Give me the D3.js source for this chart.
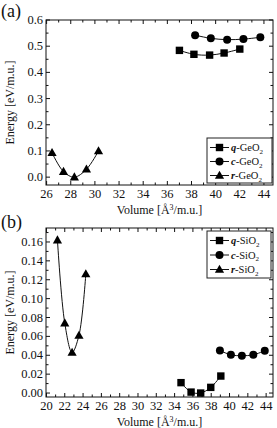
<!DOCTYPE html>
<html>
<head>
<meta charset="utf-8">
<script src="https://cdn.jsdelivr.net/npm/d3@7"></script>
<style>
  html, body { margin: 0; padding: 0; background: #fff; }
  svg { display: block; font-family: "Liberation Serif", "DejaVu Serif", serif; }
  .tick-label { font-size: 12.5px; fill: #111; }
  .axis-title { font-size: 12px; fill: #111; }
  .legend-text { font-size: 10.5px; fill: #111; }
</style>
</head>
<body>
<svg id="chart" width="277" height="428"></svg>
<script>
// panel (a): GeO2 polymorphs
const volQGeO2 = [37.0, 38.2, 39.5, 40.7, 42.0];
const eQGeO2   = [0.484, 0.469, 0.466, 0.474, 0.489];
const volCGeO2 = [38.3, 39.6, 40.95, 42.3, 43.7];
const eCGeO2   = [0.542, 0.530, 0.525, 0.527, 0.534];
const volRGeO2 = [26.45, 27.4, 28.3, 29.3, 30.3];
const eRGeO2   = [0.093, 0.021, 0.0, 0.030, 0.100];

// panel (b): SiO2 polymorphs
const volQSiO2 = [34.7, 35.8, 36.85, 37.95, 39.05];
const eQSiO2   = [0.011, 0.001, 0.0, 0.006, 0.018];
const volCSiO2 = [38.95, 40.15, 41.35, 42.6, 43.85];
const eCSiO2   = [0.045, 0.0405, 0.0395, 0.0405, 0.0448];
const volRSiO2 = [21.2, 22.0, 22.8, 23.55, 24.3];
const eRSiO2   = [0.162, 0.074, 0.043, 0.061, 0.126];

const xTicksA = [26, 28, 30, 32, 34, 36, 38, 40, 42, 44];
const yTicksA = [0.0, 0.1, 0.2, 0.3, 0.4, 0.5, 0.6];
const xTicksB = [20, 22, 24, 26, 28, 30, 32, 34, 36, 38, 40, 42, 44];
const yTicksB = [0.00, 0.02, 0.04, 0.06, 0.08, 0.10, 0.12, 0.14, 0.16];

const zip = (xs, ys) => xs.map((x, i) => ({ x, y: ys[i] }));

const svg = d3.select('#chart');

function drawPanel(p) {
  const { left, right, top, bottom } = p.box;
  const x = d3.scaleLinear().domain(p.xDomain).range([left, right]);
  const y = d3.scaleLinear().domain(p.yDomain).range([bottom, top]);
  const g = svg.append('g');

  // inward ticks on all four sides (major + minor)
  const xMinor = d3.range(Math.ceil(p.xDomain[0]), p.xDomain[1] + 1e-9, p.xMinor);
  const yMinor = d3.range(0, p.yDomain[1] + 1e-9, p.yMinor);
  const tickG = g.append('g').attr('stroke', '#111').attr('stroke-width', 1);
  xMinor.forEach(v => {
    const major = p.xTicks.some(t => Math.abs(t - v) < 1e-6);
    const len = major ? 4 : 2.5;
    tickG.append('line').attr('x1', x(v)).attr('x2', x(v)).attr('y1', bottom).attr('y2', bottom - len);
    tickG.append('line').attr('x1', x(v)).attr('x2', x(v)).attr('y1', top).attr('y2', top + len);
  });
  yMinor.forEach(v => {
    const major = p.yTicks.some(t => Math.abs(t - v) < 1e-6);
    const len = major ? 4 : 2.5;
    tickG.append('line').attr('y1', y(v)).attr('y2', y(v)).attr('x1', left).attr('x2', left + len);
    tickG.append('line').attr('y1', y(v)).attr('y2', y(v)).attr('x1', right).attr('x2', right - len);
  });

  g.append('rect')
    .attr('x', left).attr('y', top)
    .attr('width', right - left).attr('height', bottom - top)
    .attr('fill', 'none').attr('stroke', '#111').attr('stroke-width', 1);

  // tick labels
  g.selectAll('.xl').data(p.xTicks).enter().append('text')
    .attr('class', 'tick-label')
    .attr('x', d => x(d)).attr('y', bottom + 13)
    .attr('text-anchor', 'middle')
    .text(d => d);
  g.selectAll('.yl').data(p.yTicks).enter().append('text')
    .attr('class', 'tick-label')
    .attr('x', left - 3).attr('y', d => y(d) + 4)
    .attr('text-anchor', 'end')
    .text(d => d3.format(p.yFmt)(d));

  // axis titles
  g.append('text').attr('class', 'axis-title')
    .attr('transform', `translate(${left - 32},${(top + bottom) / 2}) rotate(-90)`)
    .attr('text-anchor', 'middle')
    .text('Energy [eV/m.u.]');
  const xt = g.append('text').attr('class', 'axis-title')
    .attr('x', (left + right) / 2).attr('y', bottom + 29)
    .attr('text-anchor', 'middle');
  xt.append('tspan').text('Volume [Å');
  xt.append('tspan').attr('font-size', '8px').attr('dy', -4.5).text('3');
  xt.append('tspan').attr('dy', 4.5).text('/m.u.]');

  // panel label
  g.append('text').attr('x', 1).attr('y', p.labelY)
    .attr('font-size', '18px').attr('fill', '#111').text(p.label);

  // series
  const line = d3.line().x(d => x(d.x)).y(d => y(d.y)).curve(d3.curveCatmullRom.alpha(0.5));
  p.series.forEach(s => {
    const pts = zip(s.xs, s.ys);
    g.append('path').attr('d', line(pts))
      .attr('fill', 'none').attr('stroke', '#111').attr('stroke-width', 1);
    pts.forEach(d => drawMarker(g, s.shape, x(d.x), y(d.y)));
  });

  // legend
  const L = p.legend;
  g.append('rect').attr('x', L.x).attr('y', L.y).attr('width', L.w).attr('height', L.h)
    .attr('fill', '#fff').attr('stroke', '#222').attr('stroke-width', 1);
  p.series.forEach((s, i) => {
    const cy = L.y + 9.5 + i * L.step;
    g.append('line').attr('x1', L.x + 3).attr('x2', L.x + 22).attr('y1', cy).attr('y2', cy)
      .attr('stroke', '#111').attr('stroke-width', 1);
    drawMarker(g, s.shape, L.x + 12.5, cy);
    const t = g.append('text').attr('class', 'legend-text').attr('x', L.x + 24).attr('y', cy + 3.5);
    t.append('tspan').attr('font-style', 'italic').attr('font-weight', 'bold').text(s.prefix);
    t.append('tspan').text('-' + s.compound);
    t.append('tspan').attr('font-size', '7px').attr('dy', 2.5).text('2');
  });
}

function drawMarker(g, shape, cx, cy) {
  if (shape === 'square') {
    g.append('rect').attr('x', cx - 3.7).attr('y', cy - 3.7).attr('width', 7.4).attr('height', 7.4).attr('fill', '#000');
  } else if (shape === 'circle') {
    g.append('circle').attr('cx', cx).attr('cy', cy).attr('r', 4).attr('fill', '#000');
  } else {
    g.append('path').attr('d', `M${cx},${cy - 4.8}L${cx + 4.6},${cy + 3.3}L${cx - 4.6},${cy + 3.3}Z`).attr('fill', '#000');
  }
}

drawPanel({
  label: '(a)', labelY: 17,
  box: { left: 46, right: 273, top: 20, bottom: 185 },
  xDomain: [25.95, 44.75], yDomain: [-0.03, 0.6],
  xTicks: xTicksA, yTicks: yTicksA, xMinor: 1, yMinor: 0.05, yFmt: '.1f',
  series: [
    { shape: 'square', prefix: 'q', compound: 'GeO', xs: volQGeO2, ys: eQGeO2 },
    { shape: 'circle', prefix: 'c', compound: 'GeO', xs: volCGeO2, ys: eCGeO2 },
    { shape: 'triangle', prefix: 'r', compound: 'GeO', xs: volRGeO2, ys: eRGeO2 },
  ],
  legend: { x: 207, y: 138, w: 65, h: 45, step: 14 },
});

drawPanel({
  label: '(b)', labelY: 228,
  box: { left: 46, right: 273, top: 228, bottom: 397 },
  xDomain: [19.95, 44.75], yDomain: [-0.0042, 0.1748],
  xTicks: xTicksB, yTicks: yTicksB, xMinor: 1, yMinor: 0.01, yFmt: '.2f',
  series: [
    { shape: 'square', prefix: 'q', compound: 'SiO', xs: volQSiO2, ys: eQSiO2 },
    { shape: 'circle', prefix: 'c', compound: 'SiO', xs: volCSiO2, ys: eCSiO2 },
    { shape: 'triangle', prefix: 'r', compound: 'SiO', xs: volRSiO2, ys: eRSiO2 },
  ],
  legend: { x: 207, y: 231, w: 64, h: 47, step: 14.5 },
});
</script>
</body>
</html>
